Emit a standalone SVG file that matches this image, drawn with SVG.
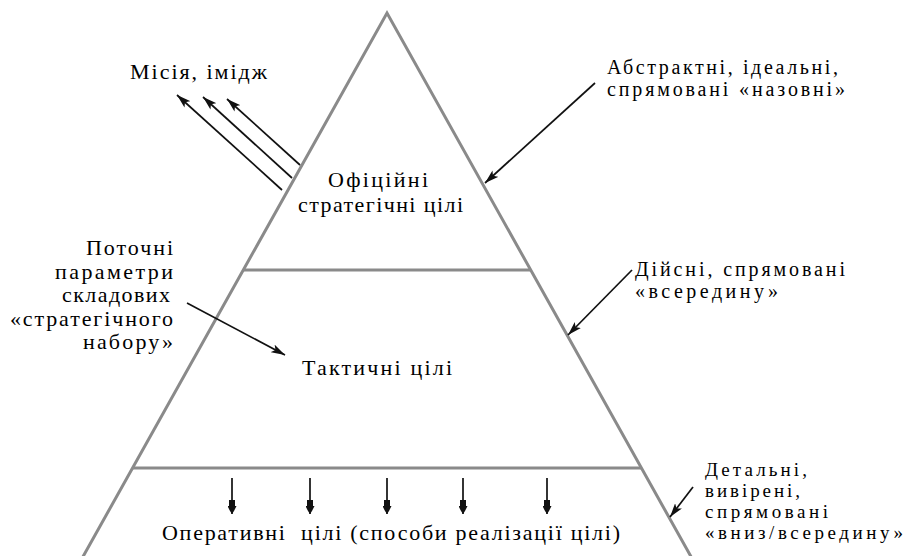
<svg xmlns="http://www.w3.org/2000/svg" width="905" height="556" viewBox="0 0 905 556">
  <defs>
    <style>
      .edge { fill: none; stroke: #8a8a8a; stroke-width: 3; stroke-linejoin: miter; }
      .t { font-family: "Liberation Serif", "Times New Roman", serif; font-size: 22px; fill: #000; }
      .m { font-size: 20px; }
      .s { font-size: 19px; }
      .arr { fill: none; stroke: #111; stroke-width: 1.7; marker-end: url(#ah); }
      .arr2 { fill: none; stroke: #111; stroke-width: 1.7; marker-end: url(#ah2); }
    </style>
    <marker id="ah" viewBox="0 0 13 8" refX="13" refY="4" markerWidth="14" markerHeight="9" markerUnits="userSpaceOnUse" orient="auto">
      <path d="M0,0 L13,4 L0,8 L3,4 z" fill="#111"/>
    </marker>
    <marker id="ah2" viewBox="0 0 14 9" refX="14" refY="4.5" markerWidth="14" markerHeight="9" markerUnits="userSpaceOnUse" orient="auto">
      <path d="M0,1.5 L6,1.5 L6,0 L11,2.5 L14,4.5 L11,6.5 L6,9 L6,7.5 L0,7.5 z" fill="#111"/>
    </marker>
  </defs>
  <rect width="905" height="556" fill="#fff"/>

  <g id="pyramid">
    <polyline class="edge" points="80,562 387,13 694,562"/>
    <line class="edge" x1="243" y1="270" x2="531" y2="270"/>
    <line class="edge" x1="132" y1="468" x2="642" y2="468"/>
  </g>

  <g id="strategic-goals">
    <text class="t" x="328" y="187" textLength="100" lengthAdjust="spacing">Офіційні</text>
    <text class="t" x="298" y="212" textLength="165" lengthAdjust="spacing">стратегічні цілі</text>
  </g>

  <g id="tactical-goals">
    <text class="t" x="302" y="375" textLength="150" lengthAdjust="spacing">Тактичні цілі</text>
  </g>

  <g id="operative-goals">
    <text class="t" x="162" y="540" textLength="458" lengthAdjust="spacing" xml:space="preserve">Оперативні  цілі (способи реалізації цілі)</text>
  </g>

  <g id="mission-image">
    <text class="t" x="130" y="79" textLength="137" lengthAdjust="spacing">Місія, імідж</text>
  </g>

  <g id="abstract-note">
    <text class="t m" x="607" y="74" textLength="231" lengthAdjust="spacing">Абстрактні, ідеальні,</text>
    <text class="t m" x="607" y="96" textLength="238" lengthAdjust="spacing">спрямовані «назовні»</text>
  </g>

  <g id="current-params-note">
    <text class="t" x="86" y="255" textLength="87" lengthAdjust="spacing">Поточні</text>
    <text class="t" x="55" y="279" textLength="118" lengthAdjust="spacing">параметри</text>
    <text class="t" x="62" y="302" textLength="108" lengthAdjust="spacing">складових</text>
    <text class="t" x="10" y="326" textLength="163" lengthAdjust="spacing">«стратегічного</text>
    <text class="t" x="83" y="349" textLength="90" lengthAdjust="spacing">набору»</text>
  </g>

  <g id="actual-note">
    <text class="t m" x="635" y="276" textLength="210" lengthAdjust="spacing">Дійсні, спрямовані</text>
    <text class="t m" x="635" y="298" textLength="143" lengthAdjust="spacing">«всередину»</text>
  </g>

  <g id="detailed-note">
    <text class="t s" x="705" y="476" textLength="102" lengthAdjust="spacing">Детальні,</text>
    <text class="t s" x="705" y="497" textLength="95" lengthAdjust="spacing">вивірені,</text>
    <text class="t s" x="705" y="518" textLength="123" lengthAdjust="spacing">спрямовані</text>
    <text class="t s" x="705" y="539" textLength="198" lengthAdjust="spacing">«вниз/всередину»</text>
  </g>

  <g id="connectors">
    <line class="arr" x1="282" y1="190" x2="177" y2="95"/>
    <line class="arr" x1="292" y1="178" x2="203" y2="97"/>
    <line class="arr" x1="300" y1="165" x2="227" y2="99"/>
    <line class="arr" x1="595" y1="83" x2="485" y2="183"/>
    <line class="arr" x1="187" y1="303" x2="285" y2="355"/>
    <line class="arr" x1="632" y1="270" x2="568" y2="335"/>
    <line class="arr" x1="693" y1="487" x2="670" y2="517"/>
    <line class="arr2" x1="232" y1="478" x2="232" y2="514"/>
    <line class="arr2" x1="310" y1="478" x2="310" y2="514"/>
    <line class="arr2" x1="387" y1="478" x2="387" y2="514"/>
    <line class="arr2" x1="463" y1="478" x2="463" y2="514"/>
    <line class="arr2" x1="547" y1="478" x2="547" y2="514"/>
  </g>
</svg>
